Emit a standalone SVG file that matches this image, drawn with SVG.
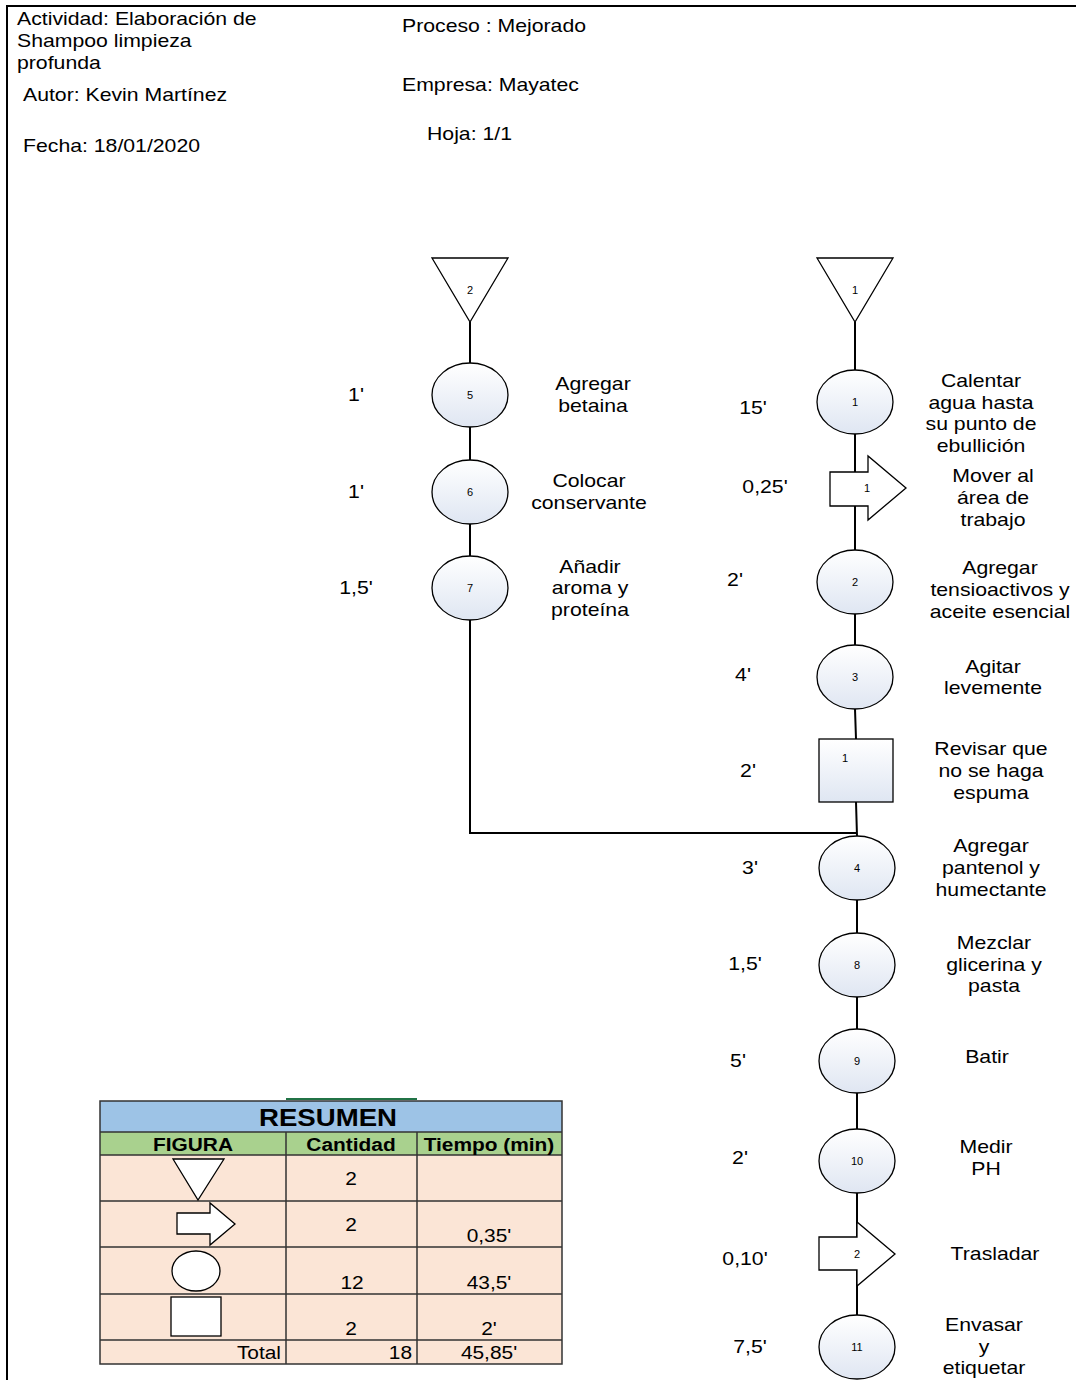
<svg xmlns="http://www.w3.org/2000/svg" width="1076" height="1380" viewBox="0 0 1076 1380">
<defs>
<linearGradient id="g" x1="0" y1="0" x2="0" y2="1">
<stop offset="0" stop-color="#ffffff"/>
<stop offset="1" stop-color="#dfe6f2"/>
</linearGradient>
<style>
text{font-family:"Liberation Sans",Arial,sans-serif;fill:#000}
.t{font-size:18px}
.m{text-anchor:middle}
.e{text-anchor:end}
.n{font-size:11px;text-anchor:middle}
.b{font-weight:bold}
.op{fill:url(#g);stroke:#000;stroke-width:1.3}
.sh{fill:#fff;stroke:#000;stroke-width:1.3}
.ln{stroke:#000;stroke-width:2;fill:none}
.cell{fill:#fbe5d6}
.grid{stroke:#333;stroke-width:1.5;fill:none}
</style>
</defs>
<rect width="1076" height="1380" fill="#fff"/>
<path d="M7 1380 V6 H1076" fill="none" stroke="#000" stroke-width="2"/>

<g id="header">
<text class="t" transform="translate(17 25) scale(1.18 1)">Actividad: Elaboración de</text>
<text class="t" transform="translate(17 47) scale(1.18 1)">Shampoo limpieza</text>
<text class="t" transform="translate(17 69) scale(1.18 1)">profunda</text>
<text class="t" transform="translate(23 101) scale(1.18 1)">Autor: Kevin Martínez</text>
<text class="t" transform="translate(23 152) scale(1.18 1)">Fecha: 18/01/2020</text>
<text class="t" transform="translate(402 32) scale(1.18 1)">Proceso : Mejorado</text>
<text class="t" transform="translate(402 91) scale(1.18 1)">Empresa: Mayatec</text>
<text class="t" transform="translate(427 140) scale(1.18 1)">Hoja: 1/1</text>
</g>

<g id="connectors">
<path class="ln" d="M470 322 V363 M470 427 V460 M470 524 V556 M470 620 V833 H857"/>
<path class="ln" d="M855 322 V370 M855 434 V550 M855 614 V645 M855 709 L856 739 M856 802 L857 836 M857 900 V933 M857 997 V1029 M857 1093 V1129 M857 1193 V1315"/>
</g>

<g id="store2"><path class="sh" d="M432 258 H508 L470 322 Z"/><text class="n" x="470" y="294">2</text></g>
<g id="op5"><ellipse class="op" cx="470" cy="395" rx="38" ry="32"/><text class="n" x="470" y="399">5</text></g>
<g id="op6"><ellipse class="op" cx="470" cy="492" rx="38" ry="32"/><text class="n" x="470" y="496">6</text></g>
<g id="op7"><ellipse class="op" cx="470" cy="588" rx="38" ry="32"/><text class="n" x="470" y="592">7</text></g>

<g id="store1"><path class="sh" d="M817 258 H893 L855 322 Z"/><text class="n" x="855" y="294">1</text></g>
<g id="op1"><ellipse class="op" cx="855" cy="402" rx="38" ry="32"/><text class="n" x="855" y="406">1</text></g>
<g id="tr1"><path class="sh" d="M830 472 H868 V456 L906 488 L868 520 V506 H830 Z"/><text class="n" x="867" y="492">1</text></g>
<g id="op2"><ellipse class="op" cx="855" cy="582" rx="38" ry="32"/><text class="n" x="855" y="586">2</text></g>
<g id="op3"><ellipse class="op" cx="855" cy="677" rx="38" ry="32"/><text class="n" x="855" y="681">3</text></g>
<g id="insp1"><rect class="op" x="819" y="739" width="74" height="63"/><text class="n" x="845" y="762">1</text></g>
<g id="op4"><ellipse class="op" cx="857" cy="868" rx="38" ry="32"/><text class="n" x="857" y="872">4</text></g>
<g id="op8"><ellipse class="op" cx="857" cy="965" rx="38" ry="32"/><text class="n" x="857" y="969">8</text></g>
<g id="op9"><ellipse class="op" cx="857" cy="1061" rx="38" ry="32"/><text class="n" x="857" y="1065">9</text></g>
<g id="op10"><ellipse class="op" cx="857" cy="1161" rx="38" ry="32"/><text class="n" x="857" y="1165">10</text></g>
<g id="tr2"><path class="sh" d="M819 1237 H857 V1222 L895 1254 L857 1286 V1270 H819 Z"/><text class="n" x="857" y="1258">2</text></g>
<g id="op11"><ellipse class="op" cx="857" cy="1347" rx="38" ry="32"/><text class="n" x="857" y="1351">11</text></g>

<g id="times">
<text class="t m" transform="translate(356 401) scale(1.18 1)">1'</text>
<text class="t m" transform="translate(356 498) scale(1.18 1)">1'</text>
<text class="t m" transform="translate(356 594) scale(1.18 1)">1,5'</text>
<text class="t m" transform="translate(753 414) scale(1.18 1)">15'</text>
<text class="t m" transform="translate(765 493) scale(1.18 1)">0,25'</text>
<text class="t m" transform="translate(735 586) scale(1.18 1)">2'</text>
<text class="t m" transform="translate(743 681) scale(1.18 1)">4'</text>
<text class="t m" transform="translate(748 777) scale(1.18 1)">2'</text>
<text class="t m" transform="translate(750 874) scale(1.18 1)">3'</text>
<text class="t m" transform="translate(745 970) scale(1.18 1)">1,5'</text>
<text class="t m" transform="translate(738 1067) scale(1.18 1)">5'</text>
<text class="t m" transform="translate(740 1164) scale(1.18 1)">2'</text>
<text class="t m" transform="translate(745 1265) scale(1.18 1)">0,10'</text>
<text class="t m" transform="translate(750 1353) scale(1.18 1)">7,5'</text>
</g>

<g id="labels">
<text class="t m" transform="translate(593 390) scale(1.18 1)">Agregar</text>
<text class="t m" transform="translate(593 412) scale(1.18 1)">betaina</text>
<text class="t m" transform="translate(589 487) scale(1.18 1)">Colocar</text>
<text class="t m" transform="translate(589 509) scale(1.18 1)">conservante</text>
<text class="t m" transform="translate(590 573) scale(1.18 1)">Añadir</text>
<text class="t m" transform="translate(590 594) scale(1.18 1)">aroma y</text>
<text class="t m" transform="translate(590 616) scale(1.18 1)">proteína</text>
<text class="t m" transform="translate(981 387) scale(1.18 1)">Calentar</text>
<text class="t m" transform="translate(981 409) scale(1.18 1)">agua hasta</text>
<text class="t m" transform="translate(981 430) scale(1.18 1)">su punto de</text>
<text class="t m" transform="translate(981 452) scale(1.18 1)">ebullición</text>
<text class="t m" transform="translate(993 482) scale(1.18 1)">Mover al</text>
<text class="t m" transform="translate(993 504) scale(1.18 1)">área de</text>
<text class="t m" transform="translate(993 526) scale(1.18 1)">trabajo</text>
<text class="t m" transform="translate(1000 574) scale(1.18 1)">Agregar</text>
<text class="t m" transform="translate(1000 596) scale(1.18 1)">tensioactivos y</text>
<text class="t m" transform="translate(1000 618) scale(1.18 1)">aceite esencial</text>
<text class="t m" transform="translate(993 673) scale(1.18 1)">Agitar</text>
<text class="t m" transform="translate(993 694) scale(1.18 1)">levemente</text>
<text class="t m" transform="translate(991 755) scale(1.18 1)">Revisar que</text>
<text class="t m" transform="translate(991 777) scale(1.18 1)">no se haga</text>
<text class="t m" transform="translate(991 799) scale(1.18 1)">espuma</text>
<text class="t m" transform="translate(991 852) scale(1.18 1)">Agregar</text>
<text class="t m" transform="translate(991 874) scale(1.18 1)">pantenol y</text>
<text class="t m" transform="translate(991 896) scale(1.18 1)">humectante</text>
<text class="t m" transform="translate(994 949) scale(1.18 1)">Mezclar</text>
<text class="t m" transform="translate(994 971) scale(1.18 1)">glicerina y</text>
<text class="t m" transform="translate(994 992) scale(1.18 1)">pasta</text>
<text class="t m" transform="translate(987 1063) scale(1.18 1)">Batir</text>
<text class="t m" transform="translate(986 1153) scale(1.18 1)">Medir</text>
<text class="t m" transform="translate(986 1175) scale(1.18 1)">PH</text>
<text class="t m" transform="translate(995 1260) scale(1.18 1)">Trasladar</text>
<text class="t m" transform="translate(984 1331) scale(1.18 1)">Envasar</text>
<text class="t m" transform="translate(984 1353) scale(1.18 1)">y</text>
<text class="t m" transform="translate(984 1374) scale(1.18 1)">etiquetar</text>
</g>

<g id="resumen">
<rect x="100" y="1101" width="462" height="31" fill="#9dc3e6"/>
<rect x="100" y="1132" width="462" height="23" fill="#a9d18e"/>
<rect class="cell" x="100" y="1155" width="462" height="209"/>
<line x1="286" y1="1099" x2="417" y2="1099" stroke="#217346" stroke-width="2"/>
<path class="grid" d="M100 1101 H562 V1364 H100 Z M100 1132 H562 M100 1155 H562 M100 1201 H562 M100 1247 H562 M100 1294 H562 M100 1340 H562 M286 1132 V1364 M417 1132 V1364"/>
<text class="b m" font-size="23" transform="translate(328 1126) scale(1.2 1)">RESUMEN</text>
<text class="b m" font-size="18" transform="translate(193 1151) scale(1.16 1)">FIGURA</text>
<text class="b m" font-size="18" transform="translate(351 1151) scale(1.16 1)">Cantidad</text>
<text class="b m" font-size="18" transform="translate(489 1151) scale(1.16 1)">Tiempo (min)</text>
<path class="sh" d="M173 1159 H224 L198 1200 Z"/>
<path class="sh" d="M177 1213 H210 V1203 L235 1224 L210 1245 V1234 H177 Z"/>
<ellipse class="sh" cx="196" cy="1271" rx="24" ry="20"/>
<rect class="sh" x="171" y="1297" width="50" height="39"/>
<text class="t m" transform="translate(351 1185) scale(1.16 1)">2</text>
<text class="t m" transform="translate(351 1231) scale(1.16 1)">2</text>
<text class="t m" transform="translate(489 1242) scale(1.16 1)">0,35'</text>
<text class="t m" transform="translate(352 1289) scale(1.16 1)">12</text>
<text class="t m" transform="translate(489 1289) scale(1.16 1)">43,5'</text>
<text class="t m" transform="translate(351 1335) scale(1.16 1)">2</text>
<text class="t m" transform="translate(489 1335) scale(1.16 1)">2'</text>
<text class="t e" transform="translate(281 1359) scale(1.16 1)">Total</text>
<text class="t e" transform="translate(412 1359) scale(1.16 1)">18</text>
<text class="t m" transform="translate(489 1359) scale(1.16 1)">45,85'</text>
</g>
</svg>
